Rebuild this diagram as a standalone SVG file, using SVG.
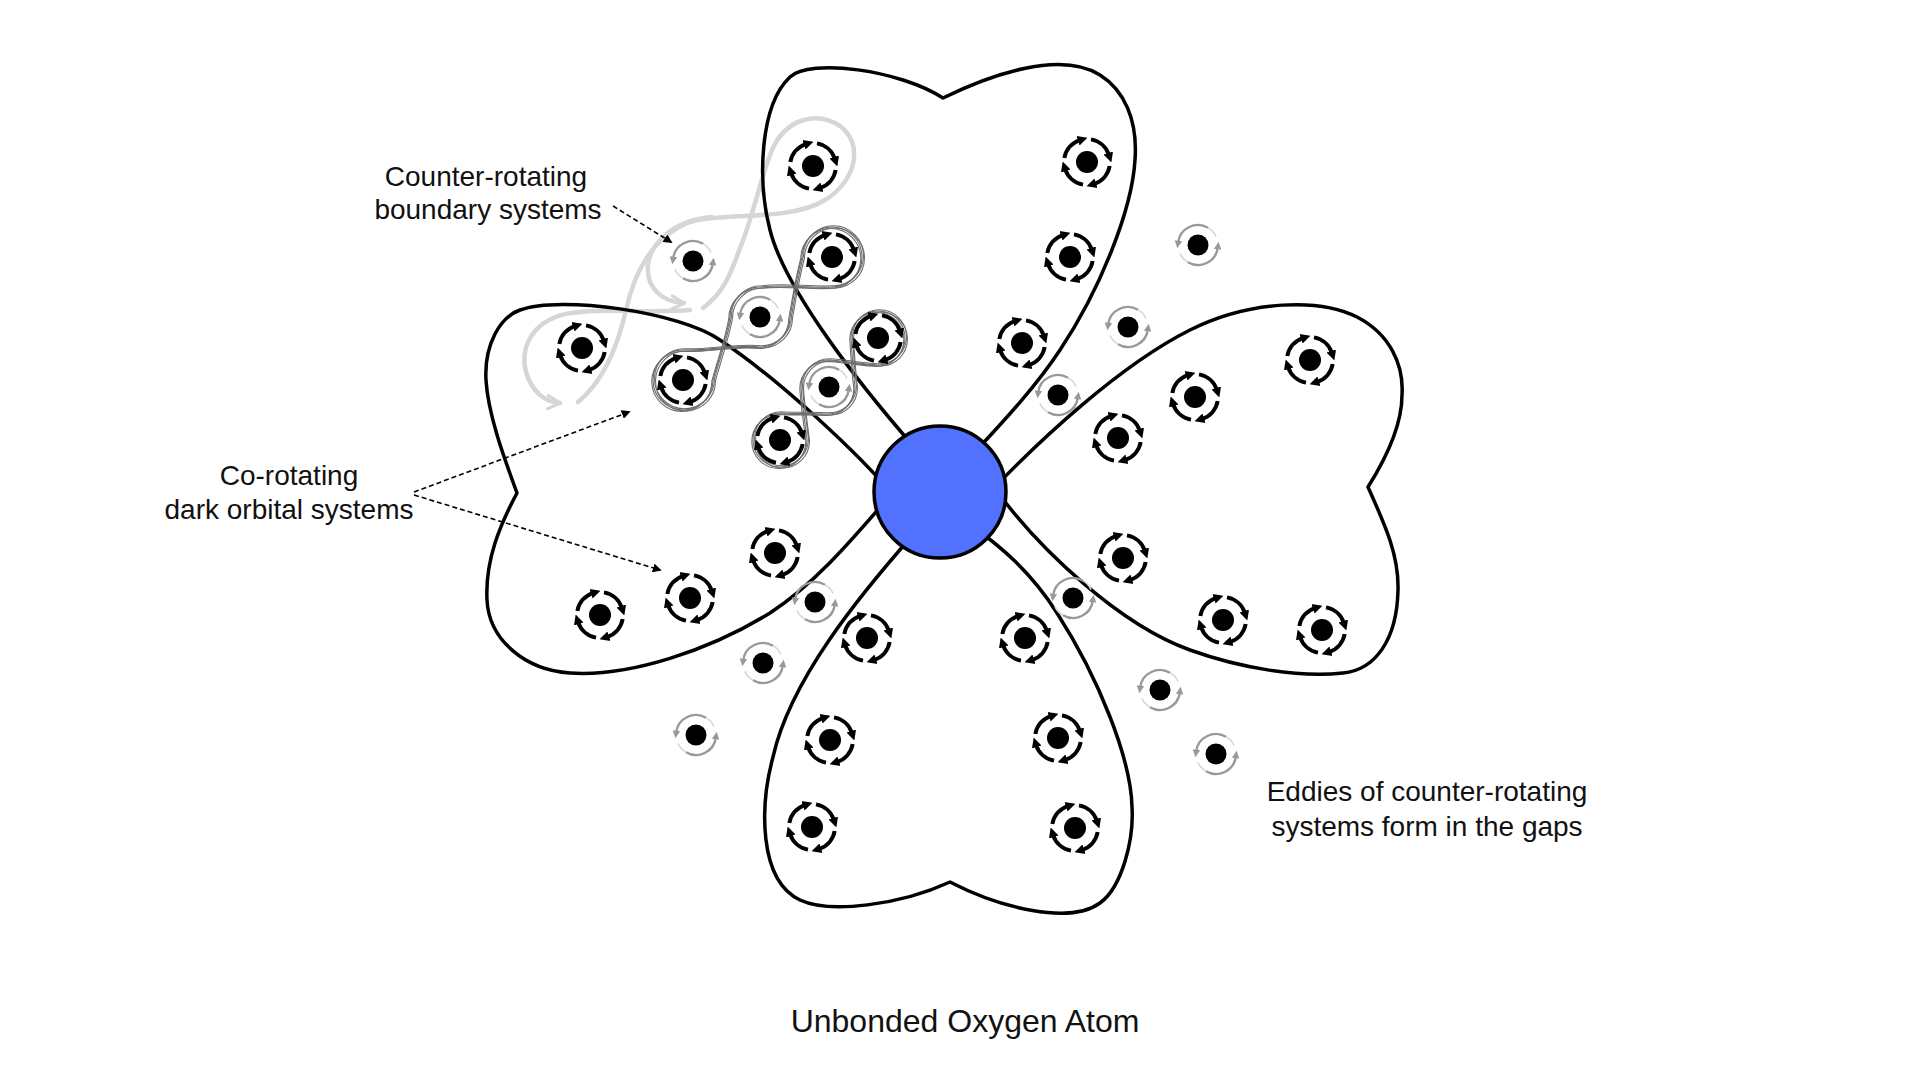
<svg xmlns="http://www.w3.org/2000/svg" width="1920" height="1080" viewBox="0 0 1920 1080">
<defs>
<style>
.lobe{fill:none;stroke:#000;stroke-width:3.5;stroke-linejoin:round}
.ring{fill:none;stroke:#000;stroke-width:4;marker-end:url(#ah)}
.garc{fill:none;stroke:#999;stroke-width:2.4;marker-end:url(#ahg)}
.gtail{fill:none;stroke:#d8d8d8;stroke-width:1.6}
.lg{fill:none;stroke:#d6d6d6;stroke-width:4.5;stroke-linecap:round}
.lga{marker-end:url(#chev)}
.chain{fill:none;stroke:#6e6e6e;stroke-width:1.1}
.lead{fill:none;stroke:#000;stroke-width:1.6;stroke-dasharray:5 3;marker-end:url(#ahl)}
.lbl{font-family:"Liberation Sans",Arial,sans-serif;font-size:28px;fill:#111;text-anchor:middle}
</style>
<marker id="ah" viewBox="0 0 10 10" refX="2" refY="5" markerWidth="10" markerHeight="11" markerUnits="userSpaceOnUse" orient="auto"><path d="M0,0L10,5L0,10z" fill="#000"/></marker>
<marker id="ahg" viewBox="0 0 10 10" refX="2" refY="5" markerWidth="7.5" markerHeight="7.5" markerUnits="userSpaceOnUse" orient="auto"><path d="M0,0L10,5L0,10z" fill="#999"/></marker>
<marker id="ahl" viewBox="0 0 10 10" refX="8" refY="5" markerWidth="9" markerHeight="9" markerUnits="userSpaceOnUse" orient="auto"><path d="M0,0L10,5L0,10z" fill="#000"/></marker>
<marker id="chev" viewBox="0 0 12 12" refX="10" refY="6" markerWidth="16" markerHeight="16" markerUnits="userSpaceOnUse" orient="auto"><path d="M1,1L10,6L1,11" fill="none" stroke="#d6d6d6" stroke-width="2.4" stroke-linecap="round" stroke-linejoin="round"/></marker>
<g id="co">
<circle r="11" fill="#000"/>
<path class="ring" d="M-22.65,-3.99A23,23 0 0 1 -7.11,-21.87"/>
<path class="ring" d="M3.99,-22.65A23,23 0 0 1 21.87,-7.11"/>
<path class="ring" d="M22.65,3.99A23,23 0 0 1 7.11,21.87"/>
<path class="ring" d="M-3.99,22.65A23,23 0 0 1 -21.87,7.11"/>
</g>
<g id="gi">
<path class="gtail" d="M18.13,-8.45A20,20 0 0 0 10,-17.32"/>
<path class="gtail" d="M-18.13,8.45A20,20 0 0 0 -10,17.32"/>
<path class="garc" d="M10,-17.32A20,20 0 0 0 -19.81,-2.78"/>
<path class="garc" d="M-10,17.32A20,20 0 0 0 19.81,2.78"/>
<circle r="10.5" fill="#000"/>
</g>
<path id="ch1" class="chain" d="M832,287C805,288 785,284 760,287A30,30 0 0 0 730,317C726,340 718,360 713,380A30,30 0 1 1 683,350C710,351 735,344 760,347A30,30 0 0 0 790,317C794,295 797,275 802,257A30,30 0 1 1 832,287Z"/>
<path id="ch2" class="chain" d="M878,365C860,364 845,361 828,360A27,27 0 0 0 801,387C802,405 805,422 807,440A27,27 0 1 1 780,413C797,414 812,413 828,414A27,27 0 0 0 855,387C853,370 852,355 851,338A27,27 0 1 1 878,365Z"/>
</defs>
<rect width="1920" height="1080" fill="#fff"/>

<g id="boundary-paths">
<path class="lg" d="M578,402C605,380 618,345 626,310C634,275 650,238 690,222C720,212 790,222 825,200C855,182 865,145 840,126C815,110 785,120 772,150C760,180 752,220 740,248C732,270 725,292 703,308"/>
<path class="lg lga" d="M712,217C672,220 650,245 648,265C646,288 662,302 684,303"/>
<path class="lg lga" d="M690,310C650,314 590,306 558,316C530,326 520,350 526,372C532,392 545,402 560,403"/>
</g>

<g id="lobes">
<path id="lobe-top" class="lobe" d="M915,448C860,385 785,290 770,230C757,180 760,105 790,77C810,58 900,70 943,98C990,75 1060,50 1100,75C1124,90 1138,120 1135,160C1132,210 1100,290 1060,350C1035,388 1000,425 975,452"/>
<path id="lobe-left" class="lobe" d="M893,495C860,455 780,380 720,340C680,312 560,295 520,310C500,317 484,345 486,380C488,415 505,460 517,493C500,525 485,560 487,600C489,640 525,670 570,673C630,677 710,650 770,613C820,580 860,530 895,490"/>
<path id="lobe-right" class="lobe" d="M992,490C1040,440 1120,365 1190,330C1250,300 1320,298 1357,317C1390,334 1404,365 1402,395C1402,425 1385,460 1368,487C1385,525 1399,555 1398,590C1397,640 1375,670 1343,673C1300,678 1240,668 1190,650C1120,625 1040,550 996,490"/>
<path id="lobe-bottom" class="lobe" d="M912,536C860,595 790,680 773,757C760,805 758,880 800,900C830,914 900,905 950,882C1000,908 1070,925 1100,903C1122,887 1134,840 1132,807C1131,760 1100,680 1057,613C1030,570 998,545 975,528"/>
</g>

<g id="nucleus">
<circle cx="940" cy="492" r="66" fill="#5271ff" stroke="#000" stroke-width="3.5"/>
</g>

<g id="chains">
<use href="#ch1"/>
<use href="#ch1" transform="translate(1.5,-1.2)"/>
<use href="#ch1" transform="translate(-1.2,1.5)"/>
<use href="#ch1" transform="translate(2.5,1)"/>
<use href="#ch2"/>
<use href="#ch2" transform="translate(1.5,-1.2)"/>
<use href="#ch2" transform="translate(-1.2,1.5)"/>
<use href="#ch2" transform="translate(2.5,1)"/>
</g>

<g id="co-rotating">
<g id="c1"><use href="#co" x="813" y="166"/></g>
<g id="c2"><use href="#co" x="832" y="257"/></g>
<g id="c3"><use href="#co" x="878" y="338"/></g>
<g id="c4"><use href="#co" x="780" y="440"/></g>
<g id="c5"><use href="#co" x="1087" y="162"/></g>
<g id="c6"><use href="#co" x="1070" y="257"/></g>
<g id="c7"><use href="#co" x="1022" y="343"/></g>
<g id="c8"><use href="#co" x="1118" y="438"/></g>
<g id="c9"><use href="#co" x="582" y="348"/></g>
<g id="c10"><use href="#co" x="683" y="380"/></g>
<g id="c11"><use href="#co" x="775" y="553"/></g>
<g id="c12"><use href="#co" x="690" y="598"/></g>
<g id="c13"><use href="#co" x="600" y="615"/></g>
<g id="c14"><use href="#co" x="867" y="638"/></g>
<g id="c15"><use href="#co" x="1310" y="360"/></g>
<g id="c16"><use href="#co" x="1195" y="397"/></g>
<g id="c17"><use href="#co" x="1123" y="558"/></g>
<g id="c18"><use href="#co" x="1223" y="620"/></g>
<g id="c19"><use href="#co" x="1322" y="630"/></g>
<g id="c20"><use href="#co" x="1025" y="638"/></g>
<g id="c21"><use href="#co" x="830" y="740"/></g>
<g id="c22"><use href="#co" x="1058" y="738"/></g>
<g id="c23"><use href="#co" x="812" y="827"/></g>
<g id="c24"><use href="#co" x="1075" y="828"/></g>
</g>

<g id="counter-rotating">
<g id="g1"><use href="#gi" x="760" y="317"/></g>
<g id="g2"><use href="#gi" x="829" y="387"/></g>
<g id="g3"><use href="#gi" x="1128" y="327"/></g>
<g id="g4"><use href="#gi" x="1058" y="395"/></g>
<g id="g5"><use href="#gi" x="815" y="602"/></g>
<g id="g6"><use href="#gi" x="763" y="663"/></g>
<g id="g7"><use href="#gi" x="1073" y="598"/></g>
<g id="g8"><use href="#gi" x="1160" y="690"/></g>
<g id="g9"><use href="#gi" x="693" y="261"/></g>
<g id="g10"><use href="#gi" x="1198" y="245"/></g>
<g id="g11"><use href="#gi" x="696" y="735"/></g>
<g id="g12"><use href="#gi" x="1216" y="754"/></g>
</g>

<g id="leaders">
<path class="lead" d="M613,206L671,242"/>
<path class="lead" d="M414,492L629,412"/>
<path class="lead" d="M414,495L660,570"/>
</g>

<g id="labels">
<text class="lbl" x="486" y="186">Counter-rotating</text>
<text class="lbl" x="488" y="219">boundary systems</text>
<text class="lbl" x="289" y="485">Co-rotating</text>
<text class="lbl" x="289" y="519">dark orbital systems</text>
<text class="lbl" x="1427" y="801">Eddies of counter-rotating</text>
<text class="lbl" x="1427" y="836">systems form in the gaps</text>
<text class="lbl" x="965" y="1032" style="font-size:32px">Unbonded Oxygen Atom</text>
</g>
</svg>
